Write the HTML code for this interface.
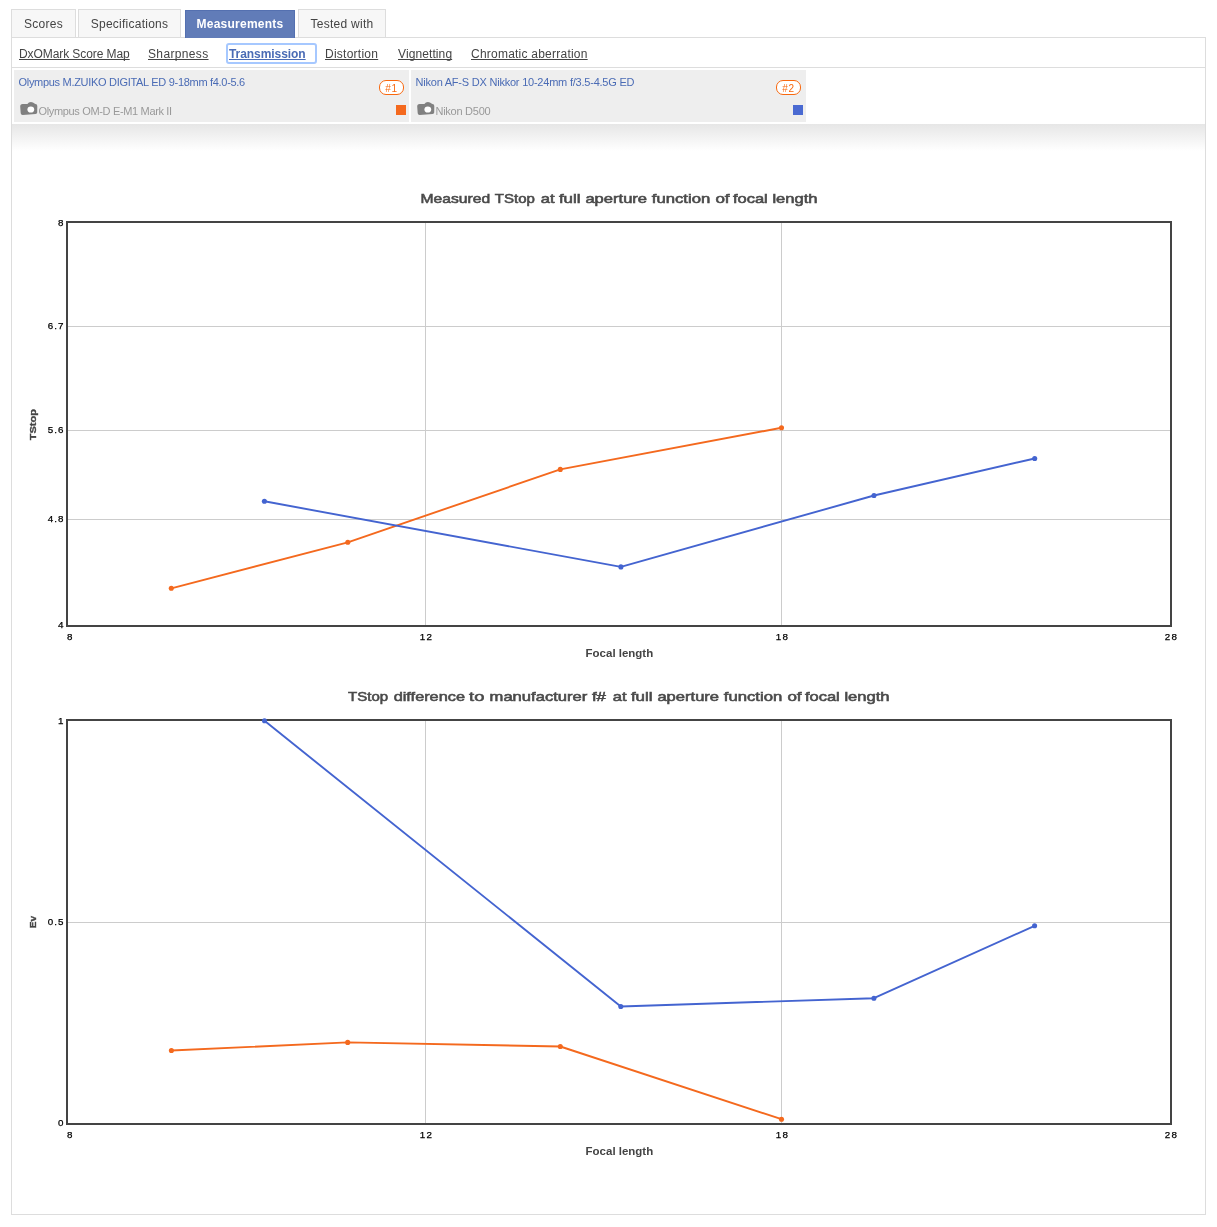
<!DOCTYPE html>
<html>
<head>
<meta charset="utf-8">
<title>Measurements</title>
<style>
html,body{margin:0;padding:0;background:#fff;}
body{width:1217px;height:1227px;position:relative;overflow:hidden;font-family:"Liberation Sans",sans-serif;font-size:12px;color:#444;}
.abs{position:absolute;}
.tab{position:absolute;top:9px;height:27px;line-height:28px;border:1px solid #ddd;border-bottom:none;background:#f7f7f7;color:#444;font-size:12px;text-align:center;box-sizing:content-box;white-space:nowrap;letter-spacing:0.25px;}
.tab.active{top:10px;background:#617cb8;border:1px solid #5470b0;border-bottom:none;color:#fff;font-weight:bold;height:27px;line-height:26px;}
#box{position:absolute;left:11px;top:37px;width:1193px;height:1176px;border:1px solid #ddd;background:#fff;}
#subnav{position:absolute;left:12px;top:38px;width:1193px;height:29px;border-bottom:1px solid #ddd;}
#subnav a{position:absolute;top:9px;text-underline-offset:1px;text-decoration-skip-ink:none;line-height:14px;font-size:12px;color:#444;text-decoration:underline;white-space:nowrap;}
#subnav a.sel{color:#4a6bb5;font-weight:bold;}
#focus{position:absolute;left:226px;top:43px;width:87px;height:17px;border:2px solid #a6c8ff;border-radius:3px;}
.cell{position:absolute;top:70px;width:395px;height:52px;background:#eee;}
.cell .lens{position:absolute;left:4.5px;top:6px;font-size:11px;line-height:13px;color:#4a6bb5;white-space:nowrap;}
.cell .cam{position:absolute;left:24.5px;top:35px;font-size:11px;line-height:13px;color:#999;white-space:nowrap;}
.cell svg.ico{position:absolute;left:6px;top:32px;}
.cell .badge{position:absolute;left:365px;top:10px;width:23px;height:13px;border:1px solid #f8680f;border-radius:7px;background:#fff;color:#f8680f;font-size:10px;font-weight:normal;line-height:15px;text-align:center;letter-spacing:0.7px;text-indent:-0.2px;}
.cell .sq{position:absolute;left:382px;top:35px;width:10px;height:10px;}
#grad{position:absolute;left:12px;top:124px;width:1193px;height:27px;background:linear-gradient(to bottom,#e6e6e6 0%,#ffffff 100%);}
svg text{font-family:"Liberation Sans",sans-serif;}
</style>
</head>
<body><div id='wrap' style='position:absolute;left:0;top:0;width:1217px;height:1227px;will-change:transform;'>
<div id="box"></div>

<div class="tab" style="left:11px;width:63px;">Scores</div>
<div class="tab" style="left:78px;width:101px;">Specifications</div>
<div class="tab active" style="left:185px;width:108px;">Measurements</div>
<div class="tab" style="left:298px;width:86px;">Tested with</div>

<div id="subnav">
<a style="left:7px;letter-spacing:-0.08px;">DxOMark Score Map</a>
<a style="left:136px;letter-spacing:0.35px;">Sharpness</a>
<a class="sel" style="left:217px;letter-spacing:-0.06px;">Transmission</a>
<a style="left:313px;letter-spacing:0.25px;">Distortion</a>
<a style="left:386px;letter-spacing:0.1px;">Vignetting</a>
<a style="left:459px;letter-spacing:0.23px;">Chromatic aberration</a>
</div>
<div id="focus"></div>

<div class="cell" style="left:14px;">
<div class="lens" style="letter-spacing:-0.3px;">Olympus M.ZUIKO DIGITAL ED 9-18mm f4.0-5.6</div>
<svg class="ico" width="18" height="14" viewBox="0 0 18 14"><path d="M2.6 2.1 L7.4 2.1 Q8.6 0 10.9 0 Q13.2 0 14.5 1.6 L15.4 2.1 Q17.3 2.3 17.3 4.1 L17.2 10.6 Q17.2 11.9 15.6 12 L2.8 12.9 Q0.9 13 0.7 11.2 L0.2 4.6 Q0.1 2.1 2.6 2.1 Z" fill="#808080"/><ellipse cx="10.8" cy="7.5" rx="3.4" ry="3.1" fill="#fff"/></svg>
<div class="cam" style="letter-spacing:-0.34px;">Olympus OM-D E-M1 Mark II</div>
<div class="badge">#1</div>
<div class="sq" style="background:#f4691e;"></div>
</div>

<div class="cell" style="left:411px;">
<div class="lens" style="letter-spacing:-0.22px;">Nikon AF-S DX Nikkor 10-24mm f/3.5-4.5G ED</div>
<svg class="ico" width="18" height="14" viewBox="0 0 18 14"><path d="M2.6 2.1 L7.4 2.1 Q8.6 0 10.9 0 Q13.2 0 14.5 1.6 L15.4 2.1 Q17.3 2.3 17.3 4.1 L17.2 10.6 Q17.2 11.9 15.6 12 L2.8 12.9 Q0.9 13 0.7 11.2 L0.2 4.6 Q0.1 2.1 2.6 2.1 Z" fill="#808080"/><ellipse cx="10.8" cy="7.5" rx="3.4" ry="3.1" fill="#fff"/></svg>
<div class="cam" style="letter-spacing:-0.26px;">Nikon D500</div>
<div class="badge">#2</div>
<div class="sq" style="background:#4a6ad2;"></div>
</div>

<div id="grad"></div>

<svg class="abs" style="left:0;top:0;" width="1217" height="1227" viewBox="0 0 1217 1227">
<!-- ===== Chart 1 ===== -->
<g id="c1">
<g id="t1" font-size="12.4" fill="#4a4a4a" stroke="#4a4a4a" stroke-width="0.55">
<text x="420.5" y="203" textLength="69.6" lengthAdjust="spacingAndGlyphs">Measured</text>
<text x="494.8" y="203" textLength="40.1" lengthAdjust="spacingAndGlyphs">TStop</text>
<text x="540.7" y="203" textLength="13.9" lengthAdjust="spacingAndGlyphs">at</text>
<text x="558.9" y="203" textLength="21.6" lengthAdjust="spacingAndGlyphs">full</text>
<text x="585.4" y="203" textLength="61.7" lengthAdjust="spacingAndGlyphs">aperture</text>
<text x="651.8" y="203" textLength="58.5" lengthAdjust="spacingAndGlyphs">function</text>
<text x="715.4" y="203" textLength="14.2" lengthAdjust="spacingAndGlyphs">of</text>
<text x="732.9" y="203" textLength="34.9" lengthAdjust="spacingAndGlyphs">focal</text>
<text x="772.4" y="203" textLength="45.1" lengthAdjust="spacingAndGlyphs">length</text>
</g>
<g stroke="#ccc" stroke-width="1" shape-rendering="crispEdges">
<line x1="67" y1="326.5" x2="1171" y2="326.5"/>
<line x1="67" y1="430.5" x2="1171" y2="430.5"/>
<line x1="67" y1="519.5" x2="1171" y2="519.5"/>
<line x1="425.5" y1="222" x2="425.5" y2="626"/>
<line x1="781.5" y1="222" x2="781.5" y2="626"/>
</g>
<rect x="67" y="222" width="1104" height="404" fill="none" stroke="#444" stroke-width="2"/>
<polyline points="171.3,588.3 347.8,542.3 560.3,469.4 781.5,427.8" fill="none" stroke="#f4691e" stroke-width="1.9" stroke-linejoin="round"/>
<polyline points="264.4,501.3 620.9,566.9 874,495.5 1034.7,458.5" fill="none" stroke="#4464d0" stroke-width="1.9" stroke-linejoin="round"/>
<g fill="#f4691e"><circle cx="171.3" cy="588.3" r="2.55"/><circle cx="347.8" cy="542.3" r="2.55"/><circle cx="560.3" cy="469.4" r="2.55"/><circle cx="781.5" cy="427.8" r="2.55"/></g>
<g fill="#4464d0"><circle cx="264.4" cy="501.3" r="2.55"/><circle cx="620.9" cy="566.9" r="2.55"/><circle cx="874" cy="495.5" r="2.55"/><circle cx="1034.7" cy="458.5" r="2.55"/></g>
<g font-size="9.8" fill="#000" stroke="#000" stroke-width="0.25" text-anchor="end" letter-spacing="1.1">
<text x="64.6" y="226.45">8</text>
<text x="64.6" y="329.45">6.7</text>
<text x="64.6" y="433.45">5.6</text>
<text x="64.6" y="522.45">4.8</text>
<text x="64.6" y="628.45">4</text>
</g>
<g font-size="9.8" fill="#000" stroke="#000" stroke-width="0.25" text-anchor="middle" letter-spacing="1.1">
<text x="70.4" y="640.45">8</text>
<text x="426.4" y="640.45">12</text>
<text x="782.4" y="640.45">18</text>
<text x="1171.4" y="640.45">28</text>
</g>
<text x="585.6" y="656.6" font-size="11" font-weight="bold" fill="#444" textLength="67.6" lengthAdjust="spacingAndGlyphs">Focal length</text>
<text transform="translate(36,440.2) rotate(-90)" font-size="9.5" font-weight="bold" fill="#444" stroke="#444" stroke-width="0.35" textLength="31.2" lengthAdjust="spacingAndGlyphs">TStop</text>
</g>

<!-- ===== Chart 2 ===== -->
<g id="c2">
<g id="t2" font-size="12.4" fill="#4a4a4a" stroke="#4a4a4a" stroke-width="0.55">
<text x="348.1" y="701" textLength="40.0" lengthAdjust="spacingAndGlyphs">TStop</text>
<text x="393.7" y="701" textLength="71.3" lengthAdjust="spacingAndGlyphs">difference</text>
<text x="469.1" y="701" textLength="15.3" lengthAdjust="spacingAndGlyphs">to</text>
<text x="489.6" y="701" textLength="97.7" lengthAdjust="spacingAndGlyphs">manufacturer</text>
<text x="591.9" y="701" textLength="14.1" lengthAdjust="spacingAndGlyphs">f#</text>
<text x="612.7" y="701" textLength="13.9" lengthAdjust="spacingAndGlyphs">at</text>
<text x="630.9" y="701" textLength="21.6" lengthAdjust="spacingAndGlyphs">full</text>
<text x="657.4" y="701" textLength="61.7" lengthAdjust="spacingAndGlyphs">aperture</text>
<text x="723.8" y="701" textLength="58.5" lengthAdjust="spacingAndGlyphs">function</text>
<text x="787.4" y="701" textLength="14.2" lengthAdjust="spacingAndGlyphs">of</text>
<text x="804.9" y="701" textLength="34.9" lengthAdjust="spacingAndGlyphs">focal</text>
<text x="844.4" y="701" textLength="45.1" lengthAdjust="spacingAndGlyphs">length</text>
</g>
<g stroke="#ccc" stroke-width="1" shape-rendering="crispEdges">
<line x1="67" y1="922.5" x2="1171" y2="922.5"/>
<line x1="425.5" y1="720" x2="425.5" y2="1124"/>
<line x1="781.5" y1="720" x2="781.5" y2="1124"/>
</g>
<rect x="67" y="720" width="1104" height="404" fill="none" stroke="#444" stroke-width="2"/>
<polyline points="171.4,1050.5 347.7,1042.4 560.3,1046.5 781.5,1119.2" fill="none" stroke="#f4691e" stroke-width="1.9" stroke-linejoin="round"/>
<polyline points="264.5,720.8 620.8,1006.5 873.9,998.2 1034.6,925.8" fill="none" stroke="#4464d0" stroke-width="1.9" stroke-linejoin="round"/>
<g fill="#f4691e"><circle cx="171.4" cy="1050.5" r="2.55"/><circle cx="347.7" cy="1042.4" r="2.55"/><circle cx="560.3" cy="1046.5" r="2.55"/><circle cx="781.5" cy="1119.2" r="2.55"/></g>
<g fill="#4464d0"><circle cx="264.5" cy="720.8" r="2.55"/><circle cx="620.8" cy="1006.5" r="2.55"/><circle cx="873.9" cy="998.2" r="2.55"/><circle cx="1034.6" cy="925.8" r="2.55"/></g>
<g font-size="9.8" fill="#000" stroke="#000" stroke-width="0.25" text-anchor="end" letter-spacing="1.1">
<text x="64.6" y="724.45">1</text>
<text x="64.6" y="925.45">0.5</text>
<text x="64.6" y="1126.45">0</text>
</g>
<g font-size="9.8" fill="#000" stroke="#000" stroke-width="0.25" text-anchor="middle" letter-spacing="1.1">
<text x="70.4" y="1138.45">8</text>
<text x="426.4" y="1138.45">12</text>
<text x="782.4" y="1138.45">18</text>
<text x="1171.4" y="1138.45">28</text>
</g>
<text x="585.6" y="1154.6" font-size="11" font-weight="bold" fill="#444" textLength="67.6" lengthAdjust="spacingAndGlyphs">Focal length</text>
<text transform="translate(36,928.3) rotate(-90)" font-size="9.5" font-weight="bold" fill="#444" stroke="#444" stroke-width="0.35" textLength="12.4" lengthAdjust="spacingAndGlyphs">Ev</text>
</g>
</svg>
</div></body>
</html>
